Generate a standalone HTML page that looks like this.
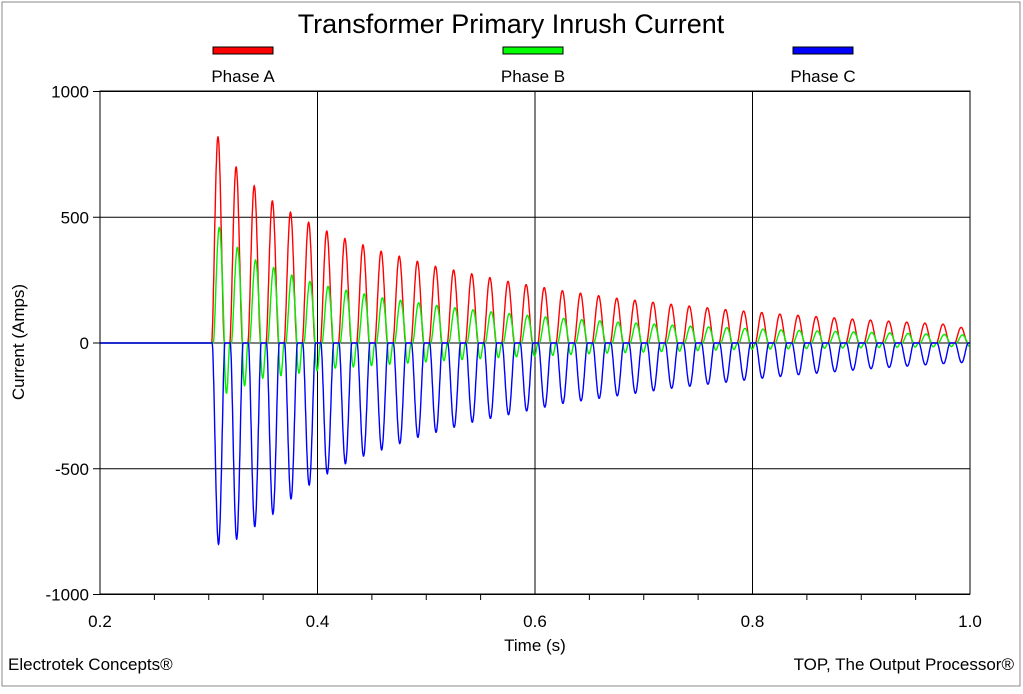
<!DOCTYPE html>
<html><head><meta charset="utf-8"><style>
body{margin:0;background:#fff;font-family:"Liberation Sans",sans-serif;}
svg text{font-family:"Liberation Sans",sans-serif;fill:#000;}
</style></head><body>
<svg id="c" width="1023" height="689" xmlns="http://www.w3.org/2000/svg">
<rect x="2" y="2" width="1018" height="684" fill="#fff" stroke="#888"/>
<text x="511" y="33" font-size="27" text-anchor="middle">Transformer Primary Inrush Current</text>
<g>
<rect x="213" y="47" width="60" height="7" fill="#f00" stroke="#000"/>
<text x="243" y="82" font-size="17" text-anchor="middle">Phase A</text>
<rect x="503" y="47" width="60" height="7" fill="#0f0" stroke="#000"/>
<text x="533" y="82" font-size="17" text-anchor="middle">Phase B</text>
<rect x="793" y="47" width="60" height="7" fill="#00f" stroke="#000"/>
<text x="823" y="82" font-size="17" text-anchor="middle">Phase C</text>
</g>
<g id="grid"></g>
<g id="series"></g>
<rect x="100" y="91" width="870" height="503" fill="none" stroke="#000"/>
<g id="ticks"></g>
<text x="535" y="651" font-size="17" text-anchor="middle">Time (s)</text>
<text transform="translate(24,342) rotate(-90)" font-size="17" text-anchor="middle">Current (Amps)</text>
<text x="8" y="670" font-size="17">Electrotek Concepts®</text>
<text x="1014" y="670" font-size="17" text-anchor="end">TOP, The Output Processor®</text>
</svg>
<script>
const xTicks=[0.2,0.4,0.6,0.8,1.0];
const xTickLabels=["0.2","0.4","0.6","0.8","1.0"];
const yTicks=[-1000,-500,0,500,1000];
const yTickLabels=["-1000","-500","0","500","1000"];
const startTime=0.3085;
const cycleLen=1/60;
const peaksA=[820,700,625,565,520,480,445,415,390,365,345,325,305,290,275,260,245,232,220,208,198,188,178,170,162,154,147,140,133,127,121,115,110,105,100,95,91,87,83,79,75,62];
const troughsC=[-800,-780,-730,-680,-620,-565,-520,-480,-450,-425,-400,-375,-355,-335,-315,-300,-285,-270,-255,-240,-230,-220,-210,-200,-190,-180,-172,-164,-156,-148,-140,-133,-126,-120,-114,-108,-102,-97,-92,-87,-82,-78];
const peaksB=[460,380,330,300,270,245,225,210,195,180,170,160,150,140,132,124,117,110,104,98,93,88,83,79,75,71,67,64,61,58,55,52,50,48,46,44,42,40,38,36,34,32];
const troughsB=[-200,-170,-140,-130,-120,-110,-100,-95,-90,-85,-80,-75,-70,-66,-62,-58,-55,-52,-49,-46,-43,-40,-38,-36,-34,-32,-30,-28,-26,-25,-24,-23,-22,-21,-20,-19,-18,-17,-16,-15,-14,-13];
const NS="http://www.w3.org/2000/svg";
const X=t=>100+(t-0.2)/0.8*870;
const Y=v=>343-v/1000*251.5;
const grid=document.getElementById('grid'),ticks=document.getElementById('ticks'),series=document.getElementById('series');
function mk(tag,attrs,parent){const e=document.createElementNS(NS,tag);for(const k in attrs)e.setAttribute(k,attrs[k]);parent.appendChild(e);return e;}
xTicks.forEach((t,i)=>{
  const l=mk('line',{x1:X(t),x2:X(t),y1:91,y2:594,stroke:'#000','stroke-width':1},grid);
  
  
  for(let j=1;j<4&&i<xTicks.length-1;j++){const tt=t+j*0.05;const m=mk('line',{x1:X(tt),x2:X(tt),y1:594,y2:600,stroke:'#000'},ticks);
  
  }
  const tx=mk('text',{x:X(t),y:627,'font-size':17,'text-anchor':'middle'},ticks);tx.textContent=xTickLabels[i];
  
  
});
yTicks.forEach((v,i)=>{
  const l=mk('line',{x1:93,x2:970,y1:Y(v),y2:Y(v),stroke:'#000','stroke-width':1},grid);
  
  
  const tx=mk('text',{x:89,y:Y(v)+6,'font-size':17,'text-anchor':'end'},ticks);tx.textContent=yTickLabels[i];
  
  
});
function pulse(dt,center,half){const d=(dt-center)/half;return Math.abs(d)<1?Math.pow(Math.cos(d*Math.PI/2),1.6):0;}
function build(fn){let d='';for(let t=0.2;t<=1.0;t+=0.0002){let v=0;const k=Math.floor((t-startTime)/cycleLen+0.5);
  for(let kk=k-1;kk<=k+1;kk++){if(kk<0||kk>=peaksA.length)continue;v+=fn(kk,t-(startTime+kk*cycleLen));}
  d+=(d?'L':'M')+X(t).toFixed(1)+','+Y(v).toFixed(1);}return d;}
const pa=mk('path',{d:build((k,dt)=>peaksA[k]*pulse(dt,0,0.0058)),fill:'none',stroke:'#f00','stroke-width':1.4},series);


const pb=mk('path',{d:build((k,dt)=>peaksB[k]*pulse(dt,0.0012,0.0055)+troughsB[k]*pulse(dt,0.0078,0.003)),fill:'none',stroke:'#0e0','stroke-width':1.4},series);


const pc=mk('path',{d:build((k,dt)=>troughsC[k]*pulse(dt,0.0005,0.0058)),fill:'none',stroke:'#00f','stroke-width':1.4},series);


</script>
</body></html>
